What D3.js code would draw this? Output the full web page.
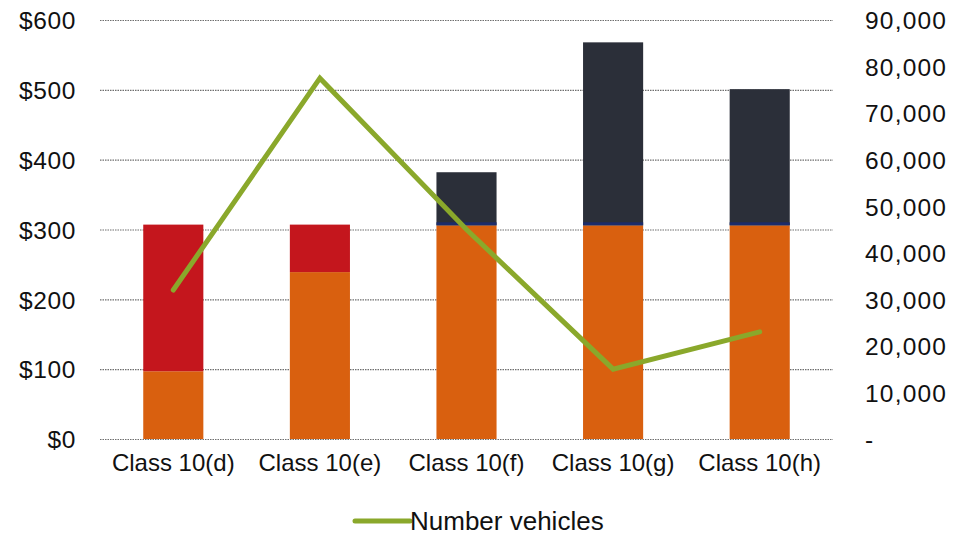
<!DOCTYPE html>
<html>
<head>
<meta charset="utf-8">
<script src="https://cdn.jsdelivr.net/npm/d3@7"></script>
<style>
  html, body { margin: 0; padding: 0; background: #fff; }
  svg { display: block; font-family: "Liberation Sans", Arial, sans-serif; }
</style>
</head>
<body>
<svg id="chart" width="958" height="535"></svg>
<script>
// Categories and series values
const categories = ["Class 10(d)", "Class 10(e)", "Class 10(f)", "Class 10(g)", "Class 10(h)"];
const baseCost   = [97, 239, 306, 306, 306];   // orange segment ($)
const addedCost  = [210, 68, 0, 0, 0];         // red segment ($)
const extraCost  = [0, 0, 76, 262, 195];       // dark segment ($)
const vehicles   = [32000, 77500, 45000, 15000, 23000]; // right axis
const leftTicks  = [0, 100, 200, 300, 400, 500, 600];
const rightTicks = [0, 10000, 20000, 30000, 40000, 50000, 60000, 70000, 80000, 90000];
const legendLabel = "Number vehicles";

const svg = d3.select("#chart");
const plot = { left: 100, right: 833, top: 20, bottom: 439 };

const x = d3.scaleBand().domain(categories).range([plot.left, plot.right]).paddingInner(0.59).paddingOuter(0.295);
const yL = d3.scaleLinear().domain([0, 600]).range([plot.bottom, plot.top]);
const yR = d3.scaleLinear().domain([0, 90000]).range([plot.bottom, plot.top]);

// Dotted gridlines
svg.append("g").selectAll("line").data(leftTicks).join("line")
  .attr("x1", plot.left).attr("x2", plot.right)
  .attr("y1", d => yL(d) + 0.5).attr("y2", d => yL(d) + 0.5)
  .attr("stroke", "#6e6e6e").attr("stroke-width", 1.2)
  .attr("stroke-dasharray", "1.5,1");

// Stacked bars
const rows = categories.map((c, i) => ({ cat: c, base: baseCost[i], added: addedCost[i], extra: extraCost[i] }));
const stack = d3.stack().keys(["base", "added", "extra"])(rows);
const colors = { base: "#d9600f", added: "#c4161d", extra: "#2b2f39" };

const bars = svg.append("g");
stack.forEach(layer => {
  bars.append("g").attr("fill", colors[layer.key])
    .selectAll("rect").data(layer.filter(d => d[1] > d[0])).join("rect")
    .attr("x", d => x(d.data.cat))
    .attr("width", x.bandwidth())
    .attr("y", d => yL(d[1]))
    .attr("height", d => yL(d[0]) - yL(d[1]));
});
// thin blue edge at the bottom of the dark segment
const extraLayer = stack.find(l => l.key === "extra");
bars.append("g").attr("fill", "#1b2c6b")
  .selectAll("rect").data(extraLayer.filter(d => d[1] > d[0])).join("rect")
  .attr("x", d => x(d.data.cat))
  .attr("width", x.bandwidth())
  .attr("y", d => yL(d[0]) - 3)
  .attr("height", 3);

// Vehicle count line
const line = d3.line()
  .x((d, i) => x(categories[i]) + x.bandwidth() / 2)
  .y(d => yR(d));
svg.append("path").datum(vehicles)
  .attr("d", line)
  .attr("fill", "none")
  .attr("stroke", "#8aa82b")
  .attr("stroke-width", 5)
  .attr("stroke-linejoin", "miter")
  .attr("stroke-linecap", "round");

const font = "Liberation Sans, Arial, sans-serif";

// Left axis
const leftAxis = d3.axisLeft(yL).tickValues(leftTicks).tickFormat(d => "$" + d).tickSize(0).tickPadding(0);
const gL = svg.append("g").attr("transform", "translate(76,0)").call(leftAxis);
gL.select(".domain").remove();
gL.selectAll("text").attr("font-size", 24.5).attr("fill", "#111").attr("dy", "0.36em")
  .attr("letter-spacing", 0.6).attr("font-family", font);

// Right axis
const rightAxis = d3.axisRight(yR).tickValues(rightTicks)
  .tickFormat(d => d === 0 ? "-" : d3.format(",")(d)).tickSize(0).tickPadding(0);
const gR = svg.append("g").attr("transform", "translate(865,0)").call(rightAxis);
gR.select(".domain").remove();
gR.selectAll("text").attr("font-size", 24.5).attr("fill", "#111").attr("dy", "0.36em")
  .attr("letter-spacing", 1.2).attr("font-family", font);

// Category axis
const bottomAxis = d3.axisBottom(x).tickSize(0).tickPadding(0);
const gB = svg.append("g").attr("transform", `translate(0,${plot.bottom})`).call(bottomAxis);
gB.select(".domain").remove();
gB.selectAll("text").attr("font-size", 24).attr("fill", "#111").attr("y", 32).attr("dy", 0)
  .attr("font-family", font);

// Legend
const lg = svg.append("g").attr("transform", "translate(355,521)");
lg.append("line").attr("x1", 0).attr("x2", 55).attr("y1", 0).attr("y2", 0)
  .attr("stroke", "#8aa82b").attr("stroke-width", 5).attr("stroke-linecap", "round");
lg.append("text").attr("x", 55).attr("y", 9).attr("font-size", 26).attr("fill", "#111")
  .attr("font-family", font).text(legendLabel);
</script>
</body>
</html>
